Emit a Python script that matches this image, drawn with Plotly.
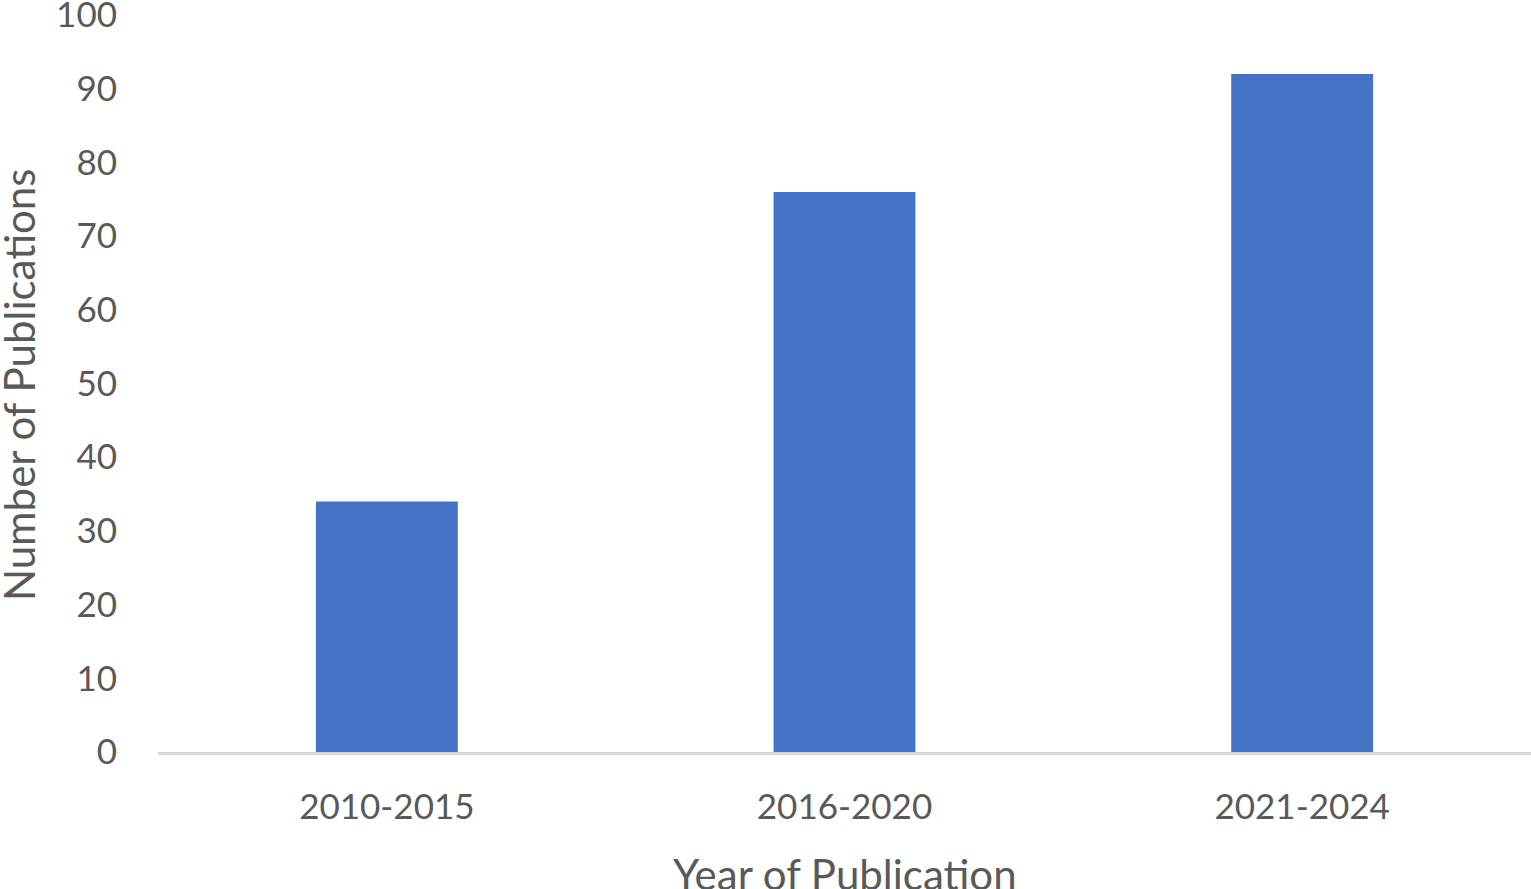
import plotly.graph_objects as go

categories = ["2010-2015", "2016-2020", "2021-2024"]
publications = [34, 76, 92]
y_ticks = [0, 10, 20, 30, 40, 50, 60, 70, 80, 90, 100]
x_title = "Year of Publication"
y_title = "Number of Publications"

FONT = "Lato, 'Open Sans', sans-serif"
GREY = "#595959"

fig = go.Figure(
    go.Bar(
        x=categories,
        y=publications,
        marker=dict(color="#4472C4", line=dict(width=0)),
        width=0.31,
        hoverinfo="skip",
    )
)

fig.update_layout(
    width=1531,
    height=889,
    margin=dict(l=158, r=0, t=15, b=137),
    paper_bgcolor="white",
    plot_bgcolor="white",
    showlegend=False,
    font=dict(family=FONT, color=GREY, size=35),
)

fig.update_xaxes(
    automargin=False,
    showgrid=False,
    showline=True,
    linecolor="#D9D9D9",
    linewidth=3,
    ticks="",
    tickfont=dict(size=35, color=GREY),
    ticklabelstandoff=22,
    zeroline=False,
)

fig.update_yaxes(
    automargin=False,
    range=[0, 100],
    tickvals=y_ticks,
    showgrid=False,
    showline=False,
    zeroline=False,
    ticks="",
    ticklabeloverflow="allow",
    tickfont=dict(size=35, color=GREY),
    ticklabelstandoff=40,
)

# axis titles placed as paper-anchored text
fig.add_annotation(
    text=x_title, xref="paper", yref="paper", x=0.5, y=-0.165,
    xanchor="center", yanchor="middle", showarrow=False,
    font=dict(size=42, color=GREY),
)
fig.add_annotation(
    text=y_title, xref="paper", yref="paper", x=-0.1012, y=0.498,
    xanchor="center", yanchor="middle", showarrow=False, textangle=-90,
    font=dict(size=42, color=GREY),
)

fig.write_html(
    "out.html",
    config={"displayModeBar": False},
    post_script="document.body.style.margin='0';document.body.style.overflow='hidden';",
)
